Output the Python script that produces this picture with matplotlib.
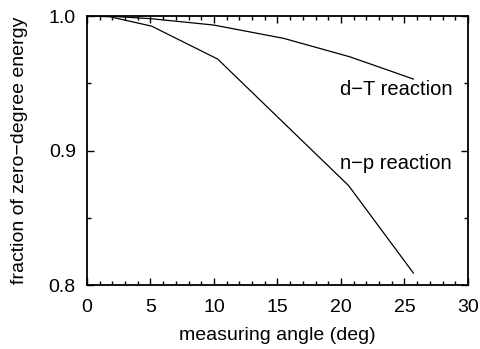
import matplotlib
matplotlib.use("Agg")
import matplotlib.pyplot as plt
from matplotlib.ticker import MultipleLocator

plt.rcParams['font.family'] = ['Liberation Sans', 'DejaVu Sans']

np_angle = [0, 1.8, 5.1, 10.3, 20.6, 25.7]
np_frac = [1.0, 0.9995, 0.9925, 0.968, 0.874, 0.809]
dt_angle = [0, 1.8, 5.1, 10.0, 15.5, 20.7, 25.7]
dt_frac = [1.0, 0.9999, 0.998, 0.9933, 0.9834, 0.9697, 0.9532]

fig = plt.figure(figsize=(4.8, 3.49), dpi=100)
ax = fig.add_axes([0.181, 0.183, 0.794, 0.771])
ax.plot(np_angle, np_frac, color='black', lw=0.9)
ax.plot(dt_angle, dt_frac, color='black', lw=0.9)

ax.set_xlim(0, 30)
ax.set_ylim(0.8, 1.0)
ax.xaxis.set_major_locator(MultipleLocator(5))
ax.xaxis.set_minor_locator(MultipleLocator(1))
ax.yaxis.set_minor_locator(MultipleLocator(0.05))
ax.set_yticks([0.8, 0.9, 1.0])
ax.set_yticklabels(['0.8', '0.9', '1.0'])
ax.tick_params(which='both', direction='in', top=True, right=True, labelsize=14)
ax.tick_params(axis='x', which='both', pad=10)
ax.tick_params(axis='y', which='both', pad=8)
ax.tick_params(which='major', length=5, width=1)
ax.tick_params(which='minor', length=3, width=1)
for s in ax.spines.values():
    s.set_linewidth(1.3)

ax.text(0.665, 0.726, 'd\u2212T reaction', transform=ax.transAxes, fontsize=14.5, va='center', ha='left')
ax.text(0.665, 0.452, 'n\u2212p reaction', transform=ax.transAxes, fontsize=14.5, va='center', ha='left')

ax.set_xlabel('measuring angle (deg)', fontsize=14, labelpad=8)
ax.set_ylabel('fraction of zero\u2212degree energy', fontsize=14)
ax.yaxis.set_label_coords(-0.155, 0.5)

fig.savefig('out.png', dpi=100)
